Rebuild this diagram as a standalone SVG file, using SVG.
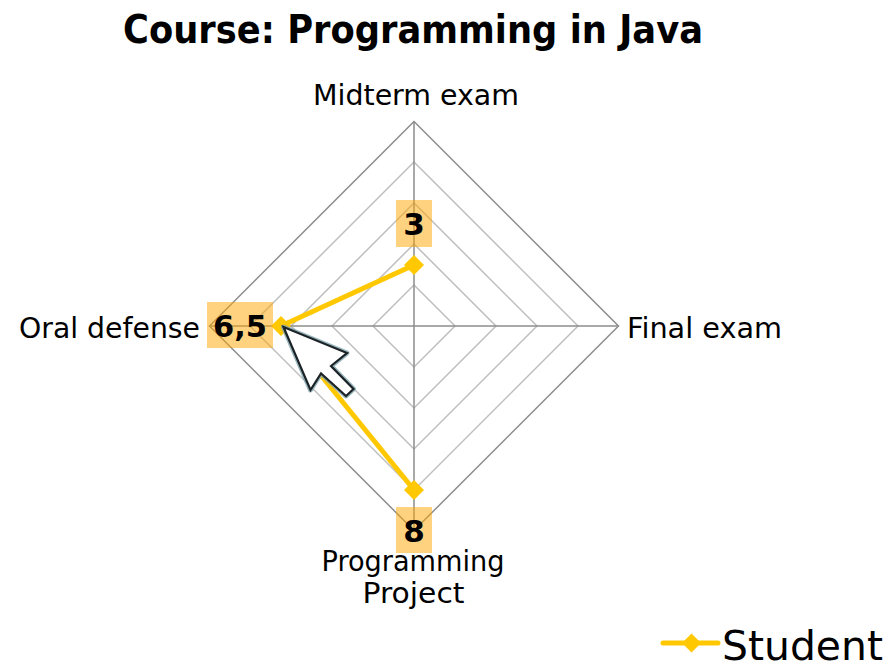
<svg xmlns="http://www.w3.org/2000/svg" width="893" height="667" viewBox="0 0 893 667">
<style>
.t{font-family:"DejaVu Sans","Liberation Sans",sans-serif;fill:#000}
.ring{fill:none;stroke:#bfbfbf;stroke-width:1.5}
.outer{fill:none;stroke:#8c8c8c;stroke-width:1.5}
.axis{stroke:#8c8c8c;stroke-width:1.5}
.lbl{fill:#FFA500;fill-opacity:0.5}
.val{font-family:"DejaVu Sans","Liberation Sans",sans-serif;font-weight:bold;font-size:31px;fill:#000}
.series{fill:none;stroke:#FFC800;stroke-width:5;stroke-linejoin:round}
.mk{fill:#FFC800}
</style>
<rect width="893" height="667" fill="#fff"/>
<g id="title"><text class="t" x="413" y="43" font-size="39" font-weight="bold" text-anchor="middle" textLength="580" lengthAdjust="spacingAndGlyphs">Course: Programming in Java</text></g>
<g id="grid">
<polygon class="ring" points="414,285 455,326 414,367 373,326"/>
<polygon class="ring" points="414,244 496,326 414,408 332,326"/>
<polygon class="ring" points="414,203 537,326 414,449 291,326"/>
<polygon class="ring" points="414,162 578,326 414,490 250,326"/>
<polygon class="outer" points="414,121.5 618.5,326 414,530.5 209.5,326"/>
<line class="axis" x1="414" y1="326" x2="414" y2="121.5"/>
<line class="axis" x1="414" y1="326" x2="618.5" y2="326"/>
<line class="axis" x1="414" y1="326" x2="414" y2="530.5"/>
<line class="axis" x1="414" y1="326" x2="209.5" y2="326"/>
</g>
<g id="axis-labels">
<text class="t" x="416" y="105" font-size="28" text-anchor="middle" textLength="206" lengthAdjust="spacingAndGlyphs">Midterm exam</text>
<text class="t" x="627" y="338" font-size="28" textLength="155" lengthAdjust="spacingAndGlyphs">Final exam</text>
<text class="t" x="19" y="338" font-size="28" textLength="181" lengthAdjust="spacingAndGlyphs">Oral defense</text>
<text class="t" x="413" y="570.5" font-size="28" text-anchor="middle" textLength="183" lengthAdjust="spacingAndGlyphs">Programming</text>
<text class="t" x="413.5" y="603" font-size="28" text-anchor="middle" textLength="102" lengthAdjust="spacingAndGlyphs">Project</text>
</g>
<g id="connectors">
<polyline class="series" points="414,265 281,326 414,490"/>
</g>
<g id="markers">
<polygon class="mk" points="414,255 424,265 414,275 404,265"/>
<polygon class="mk" points="281,316 291,326 281,336 271,326"/>
<polygon class="mk" points="414,480 424,490 414,500 404,490"/>
</g>
<g id="value-labels">
<rect class="lbl" x="396" y="200" width="36" height="47"/>
<text class="val" x="414" y="235" text-anchor="middle">3</text>
<rect class="lbl" x="207" y="302" width="66" height="46"/>
<text class="val" x="240" y="336.5" text-anchor="middle" textLength="54" lengthAdjust="spacingAndGlyphs">6,5</text>
<rect class="lbl" x="396" y="507" width="36" height="46"/>
<text class="val" x="414" y="542" text-anchor="middle">8</text>
</g>
<g id="cursor">
<polygon points="283.5,327 310.5,390 321,373.5 346,396 353.5,389 331,366 347,353" fill="none" stroke="#7fa3ad" stroke-width="5" stroke-linejoin="round" stroke-opacity="0.8"/>
<polygon points="283.5,327 310.5,390 321,373.5 346,396 353.5,389 331,366 347,353" fill="#fff" stroke="#1b2326" stroke-width="2.2" stroke-linejoin="miter"/>
</g>
<g id="legend">
<line x1="663" y1="643" x2="718" y2="643" stroke="#FFC800" stroke-width="5" stroke-linecap="round"/>
<polygon class="mk" points="691.5,633.5 701,643 691.5,652.5 682,643"/>
<text class="t" x="722" y="660" font-size="41" textLength="161" lengthAdjust="spacingAndGlyphs">Student</text>
</g>
</svg>
